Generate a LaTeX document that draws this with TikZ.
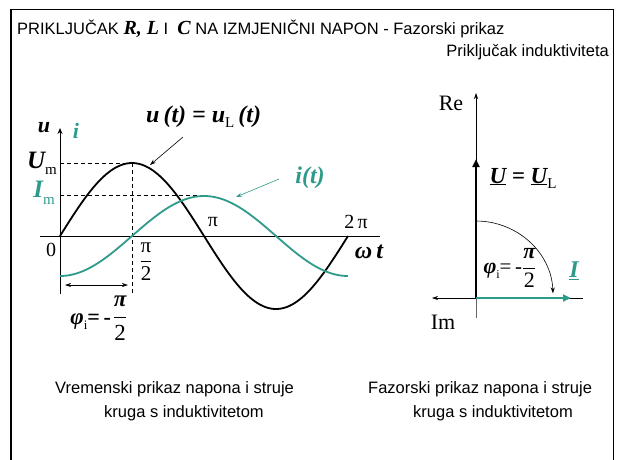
\documentclass[tikz,border=0pt]{standalone}
\usepackage{fontspec}
\setmainfont{Liberation Serif}
\newfontfamily\arial{Liberation Sans}
\usetikzlibrary{arrows.meta}
\definecolor{tealc}{RGB}{46,154,140}
\newcommand\myfrac[2]{$\vcenter{\hbox{$\displaystyle\frac{\hbox{#1}}{\hbox{#2}}$}}$}
\begin{document}
\begin{tikzpicture}[x=1pt,y=-1pt,
  sans/.style={inner sep=0pt, font=\arial\fontsize{16.5}{24}\selectfont},
  bi/.style={inner sep=0pt, font=\fontsize{24}{24}\selectfont\bfseries\itshape},
  rm/.style={inner sep=0pt, font=\fontsize{20}{20}\selectfont},
  axis/.style={line width=0.8pt},
  thinaxis/.style={line width=0.6pt},
  dsh/.style={line width=0.7pt, dash pattern=on 4pt off 3pt},
  ucurve/.style={line width=1.8pt},
  icurve/.style={line width=1.8pt, tealc},
  pointer/.style={line width=0.6pt, -{Stealth[length=6pt,width=4pt]}},
  phasor/.style={line width=2.6pt, -{Triangle[length=8pt,width=7pt]}}
]
\useasboundingbox (0,0) rectangle (618,459);
% frame
\draw[line width=0.9pt] (613,470) -- (613,9.5) -- (11,9.5);
\draw[line width=2.2pt] (11,8.6) -- (11,470);
% titles
\node[sans, anchor=base west] (title) at (17,34) {PRIKLJUČAK {\rmfamily\bfseries\itshape\fontsize{20}{20}\selectfont R, L} I\ \ {\rmfamily\bfseries\itshape\fontsize{20}{20}\selectfont C} NA IZMJENIČNI NAPON - Fazorski prikaz};
\node[sans, anchor=base east] (sub) at (609,56) {Priključak induktiviteta};
% time diagram axes
\coordinate (O) at (60,236);
\coordinate (xl) at (40,236);
\coordinate (xr) at (380,236);
\coordinate (yb) at (60,294);
\coordinate (yt) at (60,128);
\draw[axis] (xl) -- (xr);
\draw[axis, -{Stealth[length=6pt,width=5pt]}] (yb) -- (yt);
% dashed helpers
\coordinate (um) at (132,163);
\coordinate (imp) at (204,195);
\draw[dsh] (60,163) -- (um);
\draw[dsh] (60,195) -- (imp);
\draw[dsh] (um) -- (132,294);
% curves
\draw[ucurve] plot[domain=0:360, samples=120, smooth] ({60+0.8*\x},{236-73*sin(\x)});
\draw[icurve] plot[domain=0:360, samples=120, smooth] ({60+0.8*\x},{236+40*cos(\x)});
% phase arrow
\coordinate (pa) at (65,285);
\coordinate (pb) at (128,285);
\draw[line width=0.7pt, {Stealth[length=6pt,width=4pt]}-{Stealth[length=6pt,width=4pt]}] (pa) -- (pb);
% labels time diagram
\node[bi, font=\fontsize{22}{22}\selectfont\bfseries\itshape] (lu) at (44,128) {u};
\node[bi, tealc, font=\fontsize{22}{22}\selectfont\bfseries\itshape] (li) at (76,131) {i};
\node[inner sep=0pt, anchor=east] (lUm) at (57,163) {{\fontsize{25}{25}\selectfont\bfseries\itshape U}\raisebox{-6pt}{\fontsize{15}{15}\selectfont m}};
\node[inner sep=0pt, anchor=east, tealc] (lIm) at (55,193) {{\fontsize{25}{25}\selectfont\bfseries\itshape I}\raisebox{-7pt}{\fontsize{15}{15}\selectfont m}};
\node[rm] (l0) at (51,250) {0};
\node[rm, font=\fontsize{21}{21}\selectfont] (lpi2) at (146,262) {\myfrac{π}{2}};
\node[rm] (lpi) at (213,222) {π};
\node[rm] (l2pi) at (356,222) {2\,π};
\node[bi] (lwt) at (369,252) {ω\,t};
\node[inner sep=0pt] (lphi) at (99,318) {{\fontsize{23}{23}\selectfont\bfseries\itshape φ}\raisebox{-5pt}{\fontsize{13}{13}\selectfont i}{\fontsize{22}{22}\selectfont\bfseries =\,-}\,{\fontsize{23}{23}\selectfont\myfrac{\bfseries\itshape π}{2}}};
\node[bi, anchor=west] (lut) at (146,117) {u\,(t) = u{\normalfont\raisebox{-5pt}{\fontsize{15}{15}\selectfont L}}\,(t)};
\node[bi, tealc] (lit) at (310,178) {i(t)};
\coordinate (ua) at (150,165);
\coordinate (ia) at (236,197);
\draw[pointer] (183,137) -- (ua);
\draw[pointer, tealc] (279,179) -- (ia);
% phasor diagram
\coordinate (P) at (476,298);
\coordinate (Rt) at (476,93);
\coordinate (Pb) at (476,318);
\coordinate (Ir) at (583,298);
\coordinate (Il) at (432,298);
\draw[line width=0.5pt, black!60] (P) -- (Pb);
\draw[thinaxis, -{Stealth[length=6pt,width=4pt]}] (P) -- (Rt);
\draw[thinaxis, -{Stealth[length=6pt,width=4pt]}] (Ir) -- (Il);
\coordinate (Uend) at (476,159);
\coordinate (Iend) at (571,298);
\draw[phasor] (P) -- (Uend);
\draw[phasor, tealc] (P) -- (Iend);
\draw[line width=0.6pt, -{Stealth[length=6pt,width=4pt]}] (476,221) arc (-90:-2:77 and 75);
\node[rm, font=\fontsize{22}{22}\selectfont] (lRe) at (451,103) {Re};
\node[rm, font=\fontsize{22}{22}\selectfont] (lIm2) at (443,322) {Im};
\node[inner sep=0pt] (lU) at (523,178) {{\fontsize{23}{23}\selectfont\bfseries\itshape \underline{U} = \underline{U}}\raisebox{-5pt}{\fontsize{15}{15}\selectfont L}};
\node[inner sep=0pt, tealc] (lI) at (574,271) {\fontsize{24}{24}\selectfont\bfseries\itshape \underline{I}};
\node[inner sep=0pt] (lphi2) at (510,268) {{\fontsize{22}{22}\selectfont\bfseries\itshape φ}\raisebox{-5pt}{\fontsize{12}{12}\selectfont i}{\fontsize{21}{21}\selectfont =\,-}{\fontsize{22}{22}\selectfont\myfrac{\bfseries\itshape π}{2}}};
% captions
\node[sans, anchor=north west, align=left] (capL) at (55,381) {Vremenski prikaz napona i struje\\\hspace*{49pt}kruga s induktivitetom};
\node[sans, anchor=north west, align=left] (capR) at (368,381) {Fazorski prikaz napona i struje\\\hspace*{45pt}kruga s induktivitetom};
\end{tikzpicture}
\end{document}
